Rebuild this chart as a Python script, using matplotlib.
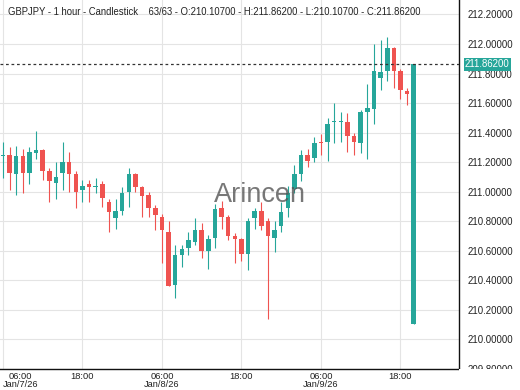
import numpy as np
import pandas as pd
import matplotlib
matplotlib.use("Agg")
import matplotlib.pyplot as plt
import matplotlib.dates as mdates
import matplotlib.transforms as mtransforms
from matplotlib.patches import Rectangle

plt.rcParams["font.family"] = ["Liberation Sans", "DejaVu Sans"]

BULL = "#26a69a"
BEAR = "#ef5350"
GRID = "#e4e4e4"
TEXT = "#222222"

# ── data ──
symbol = "GBPJPY"
interval = "1 hour"
start = "2026-01-07 06:00"

opens = [211.24, 211.25, 211.12, 211.24, 211.13, 211.26, 211.28, 211.14, 211.06, 211.13,
         211.20, 211.12, 211.01, 211.05, 211.03, 211.05, 210.93, 210.82, 210.87, 211.00,
         211.12, 211.03, 210.98, 210.89, 210.83, 210.73, 210.37, 210.57, 210.62, 210.66,
         210.74, 210.60, 210.69, 210.89, 210.83, 210.70, 210.68, 210.58, 210.82, 210.87,
         210.80, 210.69, 210.77, 210.89, 211.02, 211.12, 211.25, 211.23, 211.34, 211.34,
         211.47, 211.47, 211.47, 211.38, 211.33, 211.54, 211.56, 211.77, 211.82, 211.97,
         211.82, 211.68, 210.107]
highs = [211.34, 211.30, 211.31, 211.29, 211.30, 211.41, 211.29, 211.16, 211.20, 211.34,
         211.27, 211.14, 211.08, 211.08, 211.09, 211.07, 210.95, 210.95, 211.03, 211.16,
         211.13, 211.04, 211.00, 210.91, 210.85, 210.80, 210.64, 210.64, 210.73, 210.82,
         210.79, 210.71, 210.92, 210.94, 210.84, 210.72, 210.69, 210.82, 210.89, 210.93,
         210.82, 210.80, 210.93, 211.04, 211.18, 211.28, 211.29, 211.37, 211.39, 211.50,
         211.60, 211.54, 211.53, 211.40, 211.55, 211.73, 212.00, 212.03, 212.05, 211.98,
         211.83, 211.70, 211.862]
lows = [211.09, 211.01, 210.98, 210.99, 211.05, 211.22, 211.08, 210.93, 210.95, 211.01,
        211.00, 210.89, 210.93, 210.93, 210.99, 210.90, 210.73, 210.75, 210.84, 210.90,
        211.00, 210.83, 210.83, 210.74, 210.52, 210.36, 210.28, 210.49, 210.57, 210.64,
        210.55, 210.48, 210.62, 210.75, 210.67, 210.52, 210.53, 210.47, 210.75, 210.74,
        210.14, 210.59, 210.73, 210.83, 210.99, 211.07, 211.17, 211.20, 211.25, 211.21,
        211.33, 211.34, 211.27, 211.25, 211.26, 211.22, 211.46, 211.69, 211.75, 211.70,
        211.63, 211.59, 210.107]
closes = [211.25, 211.13, 211.24, 211.13, 211.27, 211.28, 211.14, 211.07, 211.10, 211.20,
          211.12, 211.00, 211.04, 211.03, 211.035, 210.96, 210.86, 210.87, 210.99, 211.12,
          211.03, 210.97, 210.89, 210.84, 210.74, 210.36, 210.57, 210.61, 210.67, 210.74,
          210.60, 210.68, 210.88, 210.83, 210.70, 210.68, 210.58, 210.80, 210.87, 210.77,
          210.70, 210.74, 210.86, 210.99, 211.12, 211.25, 211.21, 211.33, 211.33, 211.46,
          211.48, 211.48, 211.38, 211.34, 211.54, 211.57, 211.82, 211.81, 211.97, 211.82,
          211.69, 211.66, 211.862]

price_ticks = [209.8, 210.0, 210.2, 210.4, 210.6, 210.8, 211.0, 211.2, 211.4, 211.6,
               211.8, 212.0, 212.2]
time_ticks = ["2026-01-07 06:00", "2026-01-07 18:00", "2026-01-08 06:00",
              "2026-01-08 18:00", "2026-01-09 06:00", "2026-01-09 18:00"]
time_labels = ["06:00\nJan/7/26", "18:00", "06:00\nJan/8/26", "18:00",
               "06:00\nJan/9/26", "18:00"]
watermark = "Arincen"

times = pd.date_range(start, periods=len(opens), freq="h")
o = np.array(opens)
h = np.array(highs)
lo = np.array(lows)
c = np.array(closes)

fig = plt.figure(figsize=(5.2, 3.9), dpi=100, facecolor="white")
ax = fig.add_axes([0.0, 21 / 390, 459 / 520, 369 / 390])
ax.set_facecolor("white")

# ── candles ──
colors = [BULL if cc >= oo else BEAR for oo, cc in zip(o, c)]
xs = mdates.date2num(times)
ax.vlines(xs, lo, h, colors=colors, lw=0.8, zorder=2)
body_lo = np.minimum(o, c)
body_h = np.maximum(np.abs(c - o), 0.006)
ax.bar(xs, body_h, bottom=body_lo, width=0.68 / 24, color=colors, lw=0, zorder=3)

# ── last price line ──
last = closes[-1]
ax.axhline(last, color="#333333", lw=0.9, ls=(0, (2.2, 2.2)), zorder=4)

# ── axes ──
x0 = mdates.date2num(pd.Timestamp(start))
ax.set_xlim(x0 - 0.45 / 24, x0 + 68.83 / 24)
ax.set_ylim(209.854, 212.298)

ax.set_xticks(mdates.date2num(pd.to_datetime(time_ticks)))
ax.set_xticklabels(time_labels, fontsize=6.7, color=TEXT, linespacing=0.95)
first = ax.get_xticklabels()[0]
first.set_horizontalalignment("left")
first.set_multialignment("center")

ax.yaxis.tick_right()
ax.set_yticks(price_ticks)
ax.set_yticklabels([f"{p:.5f}" for p in price_ticks], fontsize=6.9, color=TEXT)
ax.tick_params(axis="y", length=0, pad=6.5)
ax.tick_params(axis="x", length=0, pad=2)

ax.grid(True, color=GRID, lw=0.8, zorder=0)
ax.set_axisbelow(True)
for side in ["top", "left"]:
    ax.spines[side].set_visible(False)
for side in ["right", "bottom"]:
    ax.spines[side].set_color("#111111")
    ax.spines[side].set_linewidth(1.0)

# hide lower half of the cut-off bottom tick label
fig.patches.append(Rectangle((459 / 520, 0), 1, 21 / 390, transform=fig.transFigure,
                             facecolor="white", edgecolor="none", zorder=5))

# price tag on the right
trans = mtransforms.blended_transform_factory(ax.transAxes, ax.transData)
ax.text(1.0 + 6 / 459, last, f"{last:.5f}", transform=trans, ha="left", va="center",
        fontsize=6.9, color="white", clip_on=False, zorder=6,
        bbox=dict(boxstyle="square,pad=0.15", facecolor=BULL, edgecolor="none"))

# header
header = (f"{symbol} - {interval} - Candlestick    {len(opens)}/{len(opens)} - "
          f"O:{opens[-1]:.5f} - H:{highs[-1]:.5f} - L:{lows[-1]:.5f} - C:{closes[-1]:.5f}")
fig.text(8 / 520, 1 - 12 / 390, header, ha="left", va="center", fontsize=6.85, color=TEXT)

# watermark
fig.text(0.5, 0.5, watermark, ha="center", va="center", fontsize=19.5,
         color="#555555", alpha=0.8, zorder=7)

fig.savefig("out.png", dpi=100, facecolor="white")
plt.close(fig)
